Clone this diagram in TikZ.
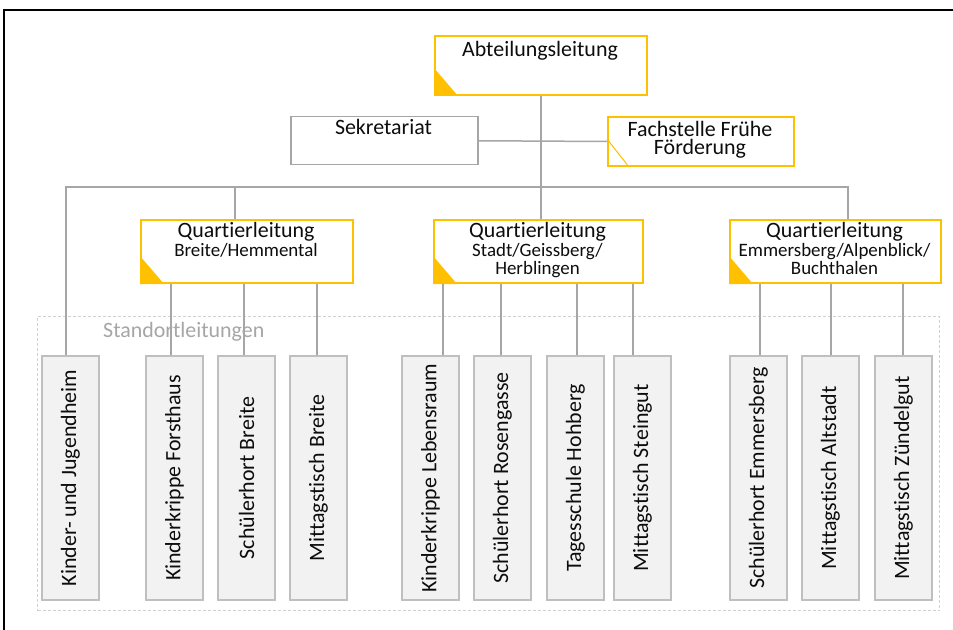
\documentclass[tikz,border=0pt]{standalone}
\usepackage{fontspec}
\setmainfont{Carlito}[Ligatures={NoCommon}]
\definecolor{gold}{HTML}{FFC000}
\definecolor{linegray}{HTML}{A6A6A6}
\definecolor{boxgray}{HTML}{A6A6A6}
\definecolor{leafgray}{HTML}{BFBFBF}
\definecolor{leaffill}{HTML}{F2F2F2}
\definecolor{dashgray}{HTML}{D0D0D0}
\definecolor{txt}{HTML}{0D0D0D}
\definecolor{grptxt}{HTML}{A6A6A6}
\begin{document}
\begin{tikzpicture}[x=1bp,y=-1bp,
  goldbox/.style={draw=gold, line width=2bp, fill=white, inner sep=0pt, anchor=north west},
  graybox/.style={draw=boxgray, line width=1.5bp, fill=white, inner sep=0pt, anchor=north west},
  leafbox/.style={draw=leafgray, line width=1.5bp, fill=leaffill, inner sep=0pt,
    minimum width=57bp, minimum height=244bp, text=txt, font=\fontsize{22}{18}\selectfont},
  dashbox/.style={draw=dashgray, line width=1bp, dash pattern=on 3bp off 2bp, inner sep=0pt, anchor=north west},
  conn/.style={draw=linegray, line width=1.5bp},
  maintxt/.style={font=\fontsize{22}{18.3}\selectfont, text=txt, inner sep=0pt, anchor=base, align=center},
  subtxt/.style={font=\fontsize{19}{18.3}\selectfont, text=txt, inner sep=0pt, anchor=base, align=center}
]
\useasboundingbox (0,0) rectangle (953,630);
\fill[white] (0,0) rectangle (953,630);
% frame
\draw[black, line width=1.2bp] (4,630) -- (4,10) -- (953,10);

% group frame
\node[dashbox, minimum width=902bp, minimum height=294bp] (grp) at (37,316) {};
\node[font=\fontsize{22}{18}\selectfont, text=grptxt, inner sep=0pt, anchor=base west] (grpT) at (103,337.7) {Standortleitungen};

% top boxes
\node[goldbox, minimum width=212bp, minimum height=59bp] (abt) at (434,35) {};
\node[graybox, minimum width=187bp, minimum height=48bp] (sek) at (290,116) {};
\node[goldbox, minimum width=186bp, minimum height=49bp] (fach) at (607,116) {};
\node[goldbox, minimum width=212bp, minimum height=63bp] (q1) at (140,219) {};
\node[goldbox, minimum width=209bp, minimum height=63bp] (q2) at (433,219) {};
\node[goldbox, minimum width=211bp, minimum height=63bp] (q3) at (729,219) {};

% leaf boxes
\node[leafbox] (k1)  at (70.5,478)  {\rotatebox{90}{Kinder- und Jugendheim}};
\node[leafbox] (k2)  at (174.5,478) {\rotatebox{90}{Kinderkrippe Forsthaus}};
\node[leafbox] (k3)  at (246.5,478) {\rotatebox{90}{Schülerhort Breite}};
\node[leafbox] (k4)  at (318.5,478) {\rotatebox{90}{Mittagstisch Breite}};
\node[leafbox] (k5)  at (430.5,478) {\rotatebox{90}{Kinderkrippe Lebensraum}};
\node[leafbox] (k6)  at (502.5,478) {\rotatebox{90}{Schülerhort Rosengasse}};
\node[leafbox] (k7)  at (575.5,478) {\rotatebox{90}{Tagesschule Hohberg}};
\node[leafbox] (k8)  at (642.5,478) {\rotatebox{90}{Mittagstisch Steingut}};
\node[leafbox] (k9)  at (758.5,478) {\rotatebox{90}{Schülerhort Emmersberg}};
\node[leafbox] (k10) at (830.5,478) {\rotatebox{90}{Mittagstisch Altstadt}};
\node[leafbox] (k11) at (903.5,478) {\rotatebox{90}{Mittagstisch Zündelgut}};

% corner marks
\foreach \n in {abt,q1,q2,q3}
  \fill[gold] (\n.south west) -- ++(0,-28) -- ++(24,28) -- cycle;
\draw[gold, line width=1bp] (fach.south west) ++(0,-28) -- ++(22,28);

% texts (for two-line texts the base anchor is the last line's baseline)
\node[maintxt] (abtT) at (540,57) {Abteilungsleitung};
\node[maintxt] (sekT) at (383.5,135) {Sekretariat};
\node[maintxt] (fachT) at (700,155) {Fachstelle Frühe\\Förderung};
\node[maintxt] (q1T) at (246,238) {Quartierleitung};
\node[subtxt]  (q1S) at (246,256.7) {Breite/Hemmental};
\node[maintxt] (q2T) at (537.5,238) {Quartierleitung};
\node[subtxt]  (q2S) at (537.5,275) {Stadt/Geissberg/\\Herblingen};
\node[maintxt] (q3T) at (834.5,238) {Quartierleitung};
\node[subtxt]  (q3S) at (834.5,275) {Emmersberg/Alpenblick/\\Buchthalen};

% connectors
\coordinate (busL) at (66,187);
\coordinate (busR) at (848,187);
\draw[conn] (abt.south) -- (abt.south |- q2.north);
\draw[conn] (sek.east) -- (fach.west);
\draw[conn] ([xshift=-4.5bp]k1.north) |- (busR) -- (busR |- q3.north);
\draw[conn] ([xshift=-12bp]q1.north) -- ([xshift=-12bp]q1.north |- busL);
\foreach \k/\q/\d in {k2/q1/-3.5, k3/q1/-2.5, k4/q1/-1.5,
                      k5/q2/12.5, k6/q2/-1.5, k7/q2/1.5, k8/q2/-9.5,
                      k9/q3/1.5, k10/q3/0.5, k11/q3/-0.5}
  \draw[conn] ([xshift=\d bp]\k.north) -- ([xshift=\d bp]\k.north |- \q.south);
\end{tikzpicture}
\end{document}
